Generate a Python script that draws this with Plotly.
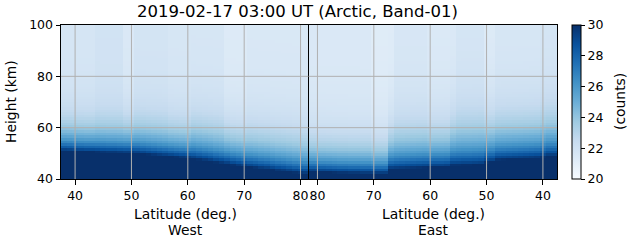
import numpy as np
import plotly.graph_objects as go

# ---------------- data ----------------
HEIGHTS_KM = [h + 0.5 for h in range(40, 100)]   # 1-km rows (cell centres)

WEST_LAT = [38, 39, 40, 41, 42, 43, 44, 45, 46, 47, 48, 49, 50, 51, 52, 53, 54, 55, 56, 57, 58, 59,
            60, 61, 62, 63, 64, 65, 66, 67, 68, 69, 70, 71, 72, 73, 74, 75, 76, 77, 78, 79, 80, 81]
# height (km) of the top of the saturated (>=30 counts) layer
WEST_DARK_TOP = [50.9, 50.8, 50.7, 50.6, 50.5, 50.5, 50.4, 50.3, 50.2, 50.2, 50.1, 50.0, 50.0, 49.8,
                 49.6, 49.4, 49.2, 49.0, 48.8, 48.6, 48.4, 48.2, 48.0, 47.7, 47.4, 47.1, 46.8, 46.4,
                 46.1, 45.8, 45.4, 45.1, 44.8, 44.5, 44.3, 44.0, 43.8, 43.5, 43.2, 43.0, 42.7, 42.4,
                 42.2, 42.0]
# e-folding thickness (km) of the fall-off above that layer
WEST_SCALE = [7.0] * 11 + [7.5] * 12 + [8.5] * 21
# background counts of the upper atmosphere in each column
WEST_BG = [21.7, 21.7, 21.7, 21.7, 21.7, 21.7, 21.9, 21.9, 21.9, 21.9, 21.9, 21.45, 21.45, 21.8,
           21.8, 21.8, 21.8, 21.8, 21.8, 21.65, 21.65, 21.65, 21.65, 21.65, 21.65, 21.65, 21.65,
           21.65, 21.65, 21.3, 21.3, 21.3, 21.3, 21.5, 21.5, 21.5, 21.5, 21.5, 21.5, 21.5, 21.5,
           21.5, 21.5, 21.5]

EAST_LAT = [81, 80, 79, 78, 77, 76, 75, 74, 73, 72, 71, 70, 69, 68, 67, 66, 65, 64, 63, 62, 61, 60,
            59, 58, 57, 56, 55, 54, 53, 52, 51, 50, 49, 48, 47, 46, 45, 44, 43, 42, 41, 40, 39, 38]
EAST_DARK_TOP = [42.8, 42.7, 42.6, 42.5, 42.4, 42.3, 42.3, 42.2, 42.2, 42.1, 42.1, 42.0, 42.0, 42.0,
                 43.8, 43.9, 44.0, 44.1, 44.2, 44.3, 44.4, 44.5, 44.6, 44.6, 44.7, 45.3, 45.3, 45.4,
                 45.4, 45.5, 45.6, 46.3, 46.5, 47.3, 47.4, 47.5, 47.6, 47.7, 47.8, 47.9, 48.0, 48.3,
                 48.8, 48.8]
EAST_SCALE = [7.5] * 14 + [9.0] * 11 + [10.0] * 8 + [9.5] * 11
EAST_BG = [21.45, 21.45, 21.45, 21.45, 21.45, 21.45, 21.45, 21.45, 21.45, 21.45, 21.45, 21.2,
           21.2, 21.2, 21.2, 21.6, 21.6, 21.6, 21.6, 21.6, 21.6, 21.4, 21.4, 21.4, 21.4, 21.4,
           21.7, 21.7, 21.7, 21.7, 21.7, 21.3, 21.3, 21.6, 21.6, 21.6, 21.6, 21.6, 21.6, 21.6,
           21.6, 21.7, 21.7, 21.7]

SATURATION = 30.0
X_TICKS = [40, 50, 60, 70, 80]
Y_TICKS = [40, 60, 80, 100]
CB_TICKS = [20, 22, 24, 26, 28, 30]
TITLE = "2019-02-17 03:00 UT (Arctic, Band-01)"


def build_field(dark_top, scale, bg):
    h = np.array(HEIGHTS_KM)[:, None]
    d = np.array(dark_top)[None, :]
    s = np.array(scale)[None, :]
    b = np.array(bg)[None, :]
    dz = np.clip(h - d, 0, None)
    return b + (SATURATION - b) * np.exp(-dz / s)


z_west = build_field(WEST_DARK_TOP, WEST_SCALE, WEST_BG)
z_east = build_field(EAST_DARK_TOP, EAST_SCALE, EAST_BG)

BLUES = ['rgb(247,251,255)', 'rgb(222,235,247)', 'rgb(198,219,239)', 'rgb(158,202,225)',
         'rgb(107,174,214)', 'rgb(66,146,198)', 'rgb(33,113,181)', 'rgb(8,81,156)', 'rgb(8,48,107)']
cscale = [[i / (len(BLUES) - 1), c] for i, c in enumerate(BLUES)]

FONT = "DejaVu Sans"
W, H = 631, 243
L, R, T, B = 61, 557, 25, 179
PW, PH = R - L, B - T


def px(x):
    return (x - L) / PW


def py(y):
    return (B - y) / PH


fig = go.Figure()
fig.add_trace(go.Heatmap(x=WEST_LAT, y=HEIGHTS_KM, z=z_west, zmin=20, zmax=30,
                         colorscale=cscale, showscale=False, xaxis="x", yaxis="y"))
fig.add_trace(go.Heatmap(x=EAST_LAT, y=HEIGHTS_KM, z=z_east, zmin=20, zmax=30,
                         colorscale=cscale, xaxis="x2", yaxis="y2",
                         colorbar=dict(x=px(572), xanchor="left", xpad=0, ypad=0,
                                       y=0.5, yanchor="middle", len=1, lenmode="fraction",
                                       thickness=9, outlinewidth=1, outlinecolor="black",
                                       tickvals=CB_TICKS, ticks="outside", ticklen=4,
                                       tickwidth=1, tickcolor="black",
                                       tickfont=dict(family=FONT, size=12.5, color="black"))))

axis_common = dict(showline=True, linecolor="black", linewidth=1, mirror=True,
                   showgrid=False, zeroline=False, ticks="outside", ticklen=4.5,
                   tickwidth=1, tickcolor="black",
                   tickfont=dict(family=FONT, size=12.5, color="black"))

west_min, west_max = WEST_LAT[0] - 0.5, WEST_LAT[-1] + 0.5
east_max, east_min = EAST_LAT[0] + 0.5, EAST_LAT[-1] - 0.5

fig.update_layout(
    width=W, height=H, margin=dict(l=L, r=W - R, t=T, b=H - B, pad=0),
    paper_bgcolor="white", plot_bgcolor="white", showlegend=False,
    font=dict(family=FONT, color="black"),
    xaxis=dict(domain=[0, 0.5], range=[west_min, west_max], tickvals=X_TICKS,
               anchor="y", **axis_common),
    xaxis2=dict(domain=[0.5, 1], range=[east_max, east_min], tickvals=X_TICKS,
                anchor="y2", **axis_common),
    yaxis=dict(domain=[0, 1], range=[40, 100], tickvals=Y_TICKS, anchor="x", **axis_common),
    yaxis2=dict(domain=[0, 1], range=[40, 100], tickvals=Y_TICKS, anchor="x2",
                matches="y", showticklabels=False,
                **{k: v for k, v in axis_common.items() if k not in ("ticks",)}, ticks=""),
)

grid = dict(color="#b0b0b0", width=1)
shapes = []
for v in X_TICKS:
    shapes.append(dict(type="line", xref="x", yref="paper", x0=v, x1=v, y0=0, y1=1,
                       line=grid, layer="above"))
    shapes.append(dict(type="line", xref="x2", yref="paper", x0=v, x1=v, y0=0, y1=1,
                       line=grid, layer="above"))
for v in Y_TICKS[1:-1]:
    shapes.append(dict(type="line", xref="paper", yref="y", x0=0, x1=1, y0=v, y1=v,
                       line=grid, layer="above"))
# the dividing spine between West and East halves
shapes.append(dict(type="line", xref="x", yref="paper", x0=west_max, x1=west_max, y0=0, y1=1,
                   line=dict(color="black", width=1), layer="above"))
fig.update_layout(shapes=shapes)

ann = []
ann.append(dict(text=TITLE, x=px(297.5), y=py(11.5), xref="paper", yref="paper",
                showarrow=False, xanchor="center", yanchor="middle",
                font=dict(family=FONT, size=16.5, color="black")))
for cx, side in ((px(185), "West"), (px(433), "East")):
    ann.append(dict(text="Latitude (deg.)", x=cx, y=py(214), xref="paper", yref="paper",
                    showarrow=False, xanchor="center", yanchor="middle",
                    font=dict(family=FONT, size=13.9, color="black")))
    ann.append(dict(text=side, x=cx, y=py(229.5), xref="paper", yref="paper",
                    showarrow=False, xanchor="center", yanchor="middle",
                    font=dict(family=FONT, size=13.9, color="black")))
ann.append(dict(text="Height (km)", x=px(11), y=0.5, xref="paper", yref="paper",
                showarrow=False, xanchor="center", yanchor="middle", textangle=-90,
                font=dict(family=FONT, size=13.9, color="black")))
ann.append(dict(text="(counts)", x=px(620), y=0.5, xref="paper", yref="paper",
                showarrow=False, xanchor="center", yanchor="middle", textangle=-90,
                font=dict(family=FONT, size=13.9, color="black")))
fig.update_layout(annotations=ann)

fig.write_html("out.html")
